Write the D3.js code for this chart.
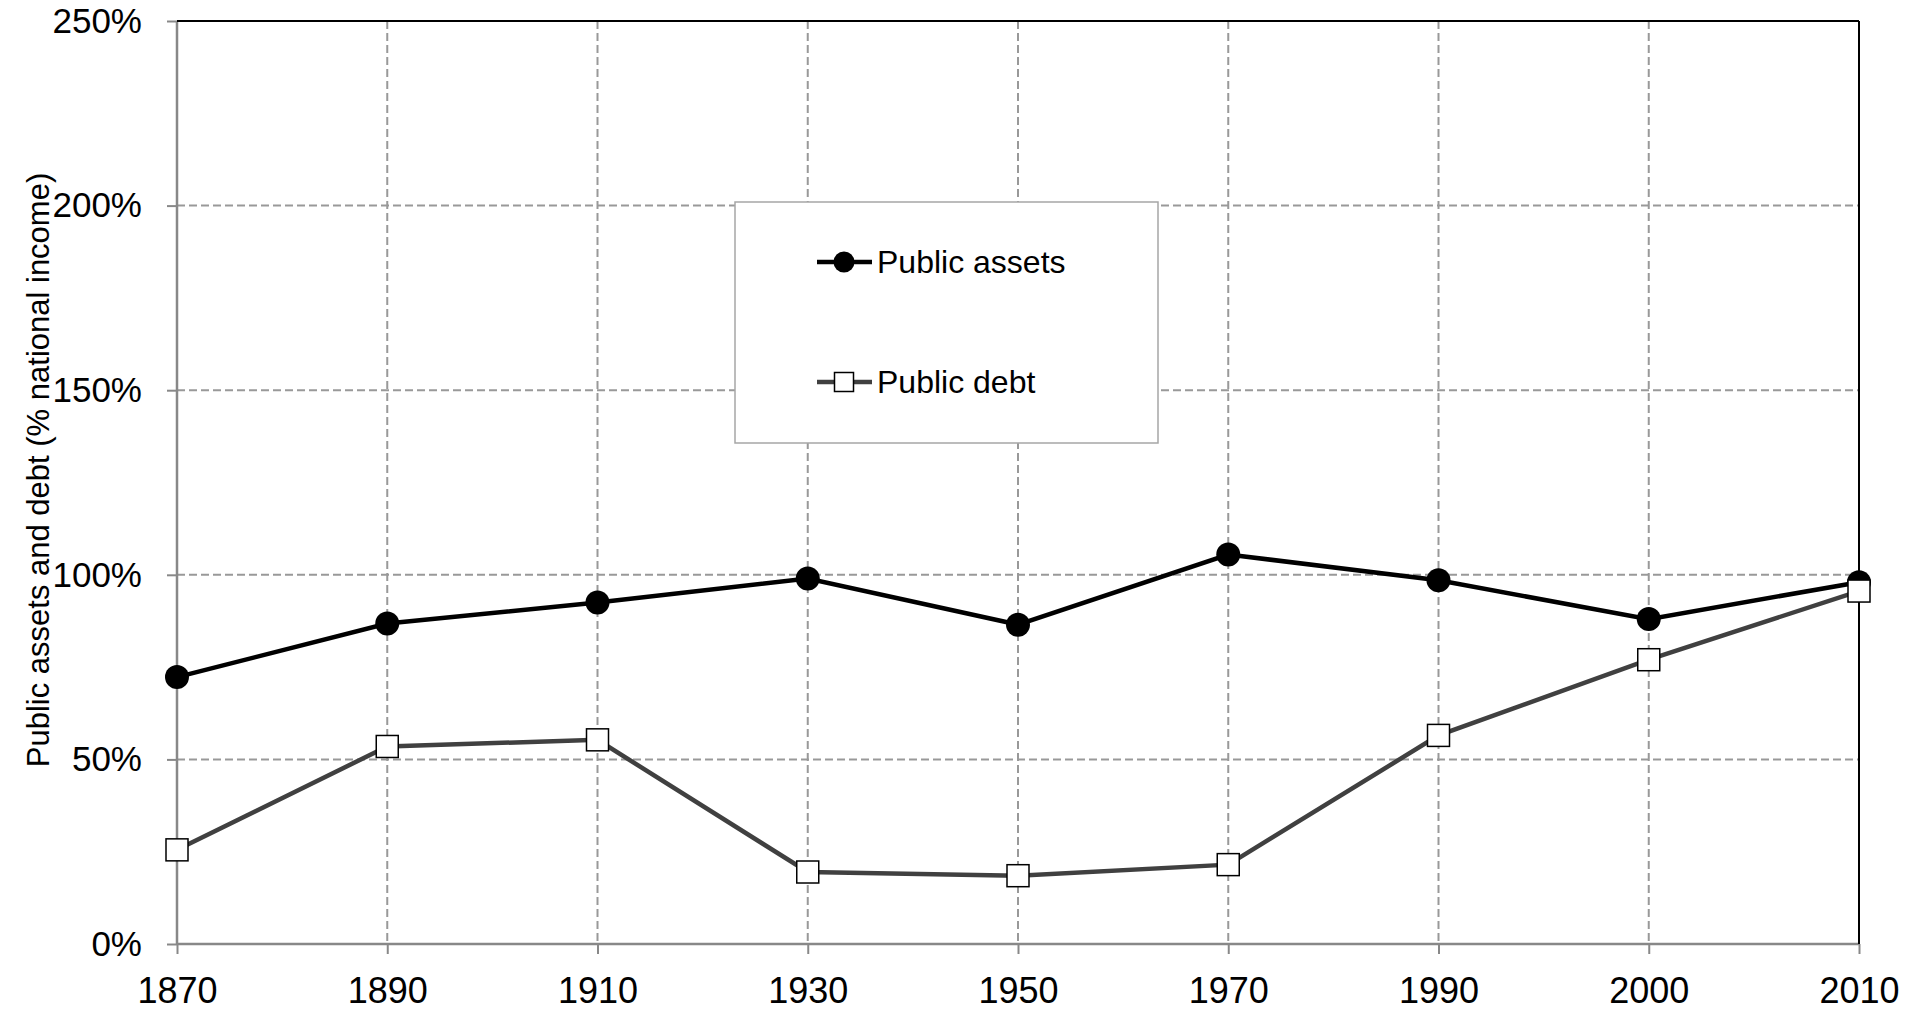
<!DOCTYPE html>
<html lang="en">
<head>
    <meta charset="UTF-8">
    <script src="https://d3js.org/d3.v7.min.js"></script>
    <title>Public assets and debt</title>
</head>
<style>
    body { margin: 0; background: white; }
    text { font-family: "Liberation Sans", Arial, sans-serif; fill: black; }
</style>
<body>
    <svg width=1924 height=1011></svg>

    <script>
        // data (% of national income)
        const years = ["1870", "1890", "1910", "1930", "1950", "1970", "1990", "2000", "2010"];
        const publicAssets = [72.3, 86.8, 92.5, 99, 86.5, 105.5, 98.5, 88, 98];
        const publicDebt = [25.5, 53.5, 55.3, 19.5, 18.5, 21.5, 56.5, 77, 95.6];
        const yTicks = [0, 50, 100, 150, 200, 250];
        const seriesNames = ["Public assets", "Public debt"];
        const yaxisname = "Public assets and debt (% national income)";

        const plotLeft = 177, plotRight = 1859, plotTop = 21, plotBottom = 944;

        var x = d3.scalePoint().domain(years).range([plotLeft, plotRight]);
        var y = d3.scaleLinear().domain([0, 250]).range([plotBottom, plotTop]);

        var svg = d3.select("svg");

        // dashed grid
        svg.append("g")
            .selectAll("line")
            .data(yTicks.filter(d => d > 0))
            .enter()
            .append("line")
            .attr("x1", plotLeft).attr("x2", plotRight)
            .attr("y1", d => y(d)).attr("y2", d => y(d))
            .attr("stroke", "#999").attr("stroke-width", 2)
            .attr("stroke-dasharray", "8,4");

        svg.append("g")
            .selectAll("line")
            .data(years.slice(1, -1))
            .enter()
            .append("line")
            .attr("x1", d => x(d)).attr("x2", d => x(d))
            .attr("y1", plotTop).attr("y2", plotBottom)
            .attr("stroke", "#999").attr("stroke-width", 2)
            .attr("stroke-dasharray", "8,4");

        // axes
        var yAxis = svg.append("g")
            .attr("transform", "translate(" + plotLeft + ",0)")
            .call(d3.axisLeft(y).tickValues(yTicks).tickFormat(d => d + "%").tickSize(10).tickPadding(25));

        var xAxis = svg.append("g")
            .attr("transform", "translate(0," + plotBottom + ")")
            .call(d3.axisBottom(x).tickSize(10).tickPadding(23));

        [yAxis, xAxis].forEach(function(a) {
            a.select(".domain").remove();
            a.selectAll(".tick line").attr("stroke", "#888").attr("stroke-width", 2);
            a.selectAll(".tick text")
                .style("font-family", '"Liberation Sans", Arial, sans-serif')
                .attr("fill", "black");
        });
        yAxis.selectAll(".tick text").style("font-size", "35px");
        xAxis.selectAll(".tick text").style("font-size", "36px");

        // frame: grey left/bottom, black top/right
        svg.append("line").attr("x1", plotLeft).attr("x2", plotLeft).attr("y1", plotTop).attr("y2", plotBottom)
            .attr("stroke", "#888").attr("stroke-width", 2.5);
        svg.append("line").attr("x1", plotLeft).attr("x2", plotRight).attr("y1", plotBottom).attr("y2", plotBottom)
            .attr("stroke", "#888").attr("stroke-width", 2.5);
        svg.append("line").attr("x1", plotLeft).attr("x2", plotRight).attr("y1", plotTop).attr("y2", plotTop)
            .attr("stroke", "black").attr("stroke-width", 2);
        svg.append("line").attr("x1", plotRight).attr("x2", plotRight).attr("y1", plotTop).attr("y2", plotBottom)
            .attr("stroke", "black").attr("stroke-width", 2);

        // y axis title
        svg.append("text")
            .attr("transform", "translate(49,470) rotate(-90)")
            .attr("text-anchor", "middle")
            .style("font-size", "31px")
            .text(yaxisname);

        var line = d3.line()
            .x((d, i) => x(years[i]))
            .y(d => y(d));

        // debt line
        svg.append("path")
            .datum(publicDebt)
            .attr("d", line)
            .attr("fill", "none")
            .attr("stroke", "#404040")
            .attr("stroke-width", 4.5);

        // assets line
        svg.append("path")
            .datum(publicAssets)
            .attr("d", line)
            .attr("fill", "none")
            .attr("stroke", "black")
            .attr("stroke-width", 4.5);

        svg.append("g")
            .selectAll("circle")
            .data(publicAssets)
            .enter()
            .append("circle")
            .attr("cx", (d, i) => x(years[i]))
            .attr("cy", d => y(d))
            .attr("r", 12)
            .attr("fill", "black");

        svg.append("g")
            .selectAll("rect")
            .data(publicDebt)
            .enter()
            .append("rect")
            .attr("x", (d, i) => x(years[i]) - 11)
            .attr("y", d => y(d) - 11)
            .attr("width", 22)
            .attr("height", 22)
            .attr("fill", "white")
            .attr("stroke", "black")
            .attr("stroke-width", 1.5);

        // legend
        var legend = svg.append("g");
        legend.append("rect")
            .attr("x", 735).attr("y", 202)
            .attr("width", 423).attr("height", 241)
            .attr("fill", "white")
            .attr("stroke", "#a6a6a6")
            .attr("stroke-width", 1.5);

        legend.append("line").attr("x1", 817).attr("x2", 872).attr("y1", 262).attr("y2", 262)
            .attr("stroke", "black").attr("stroke-width", 4.5);
        legend.append("circle").attr("cx", 844).attr("cy", 262).attr("r", 10.5).attr("fill", "black");
        legend.append("text").attr("x", 877).attr("y", 262).attr("dy", "0.35em")
            .style("font-size", "32px").text(seriesNames[0]);

        legend.append("line").attr("x1", 817).attr("x2", 872).attr("y1", 382).attr("y2", 382)
            .attr("stroke", "#404040").attr("stroke-width", 4.5);
        legend.append("rect").attr("x", 834.5).attr("y", 372.5).attr("width", 19).attr("height", 19)
            .attr("fill", "white").attr("stroke", "black").attr("stroke-width", 1.5);
        legend.append("text").attr("x", 877).attr("y", 382).attr("dy", "0.35em")
            .style("font-size", "32px").text(seriesNames[1]);
    </script>
</body>
</html>
